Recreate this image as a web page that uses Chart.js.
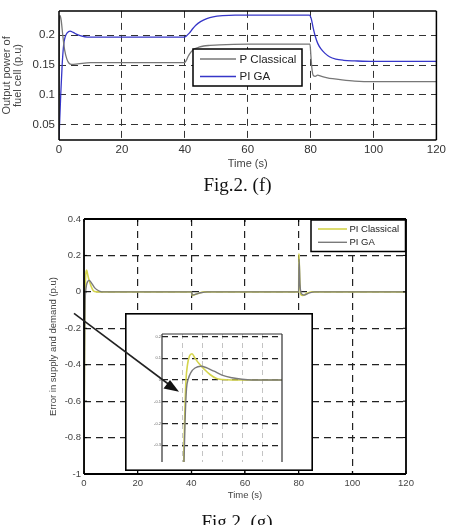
<!DOCTYPE html>
<html>
<head>
<meta charset="utf-8">
<script src="https://cdn.jsdelivr.net/npm/chart.js@4.4.1/dist/chart.umd.min.js"></script>
<style>
  body { margin: 0; background: #fff; width: 449px; height: 525px; overflow: hidden; position: relative; font-family: "Liberation Sans", Arial, sans-serif; }
  canvas { position: absolute; }
  #powerChart { left: 0; top: 0; }
  #errorChart { left: 0; top: 200px; }
  #insetChart { left: 125px; top: 313px; }
  #arrow { position: absolute; left: 0; top: 0; pointer-events: none; }
  .cap { position: absolute; font-family: "Liberation Serif", "Times New Roman", serif; font-size: 19px; line-height: 19px; transform: translateX(-50%); white-space: nowrap; color: #111; }
</style>
</head>
<body>
<canvas id="powerChart" width="449" height="176"></canvas>
<div class="cap" style="left:237.5px; top:174.5px;">Fig.2. (f)</div>
<canvas id="errorChart" width="449" height="310"></canvas>
<canvas id="insetChart" width="188" height="158"></canvas>
<svg id="arrow" width="449" height="525">
  <line x1="74" y1="313.3" x2="169" y2="384.5" stroke="#222" stroke-width="1.6"/>
  <polygon points="179,391.7 163.5,388.5 170,380" fill="#111"/>
</svg>
<div class="cap" style="left:237px; top:511.5px;">Fig.2. (g)</div>

<script>
// Fig.2 (f) : puissance de sortie de la pile (p.u)
const powerXTicks = [0, 20, 40, 60, 80, 100, 120];
const powerYTicks = [0.05, 0.1, 0.15, 0.2];

const tPClassical = [0, 0.15, 0.35, 0.7, 1.2, 1.8, 2.5, 3.2, 4, 6, 10, 20, 39.9, 40.5, 41, 42, 43, 44.5, 46, 48, 51, 60, 79.8, 80.1, 80.4, 80.8, 81.5, 82.2, 83.5, 85, 87, 90, 94, 100, 120];
const pClassical  = [0.025, 0.232, 0.233, 0.225, 0.2, 0.175, 0.16, 0.153, 0.151, 0.152, 0.154, 0.154, 0.154, 0.158, 0.164, 0.172, 0.177, 0.18, 0.182, 0.183, 0.184, 0.185, 0.185, 0.165, 0.145, 0.133, 0.131, 0.133, 0.131, 0.129, 0.127, 0.125, 0.123, 0.122, 0.122];

const tPiGa = [0, 0.25, 0.55, 1.0, 1.5, 2.0, 2.6, 3.5, 4.5, 5.5, 7, 9, 12, 20, 39.9, 40.5, 41.5, 42.5, 43.5, 45, 47, 49, 52, 56, 79.6, 80.2, 80.8, 81.5, 82.3, 83.3, 84.5, 86, 88, 90.5, 94, 100, 120];
const piGa  = [0.025, 0.06, 0.1, 0.15, 0.185, 0.198, 0.204, 0.207, 0.205, 0.202, 0.199, 0.197, 0.197, 0.197, 0.197, 0.199, 0.204, 0.211, 0.217, 0.223, 0.228, 0.231, 0.233, 0.234, 0.234, 0.228, 0.213, 0.198, 0.186, 0.177, 0.17, 0.164, 0.16, 0.158, 0.157, 0.156, 0.156];

// Fig.2 (g) : erreur offre / demande (p.u)
const errXTicks = [0, 20, 40, 60, 80, 100, 120];
const errYTicks = [-1, -0.8, -0.6, -0.4, -0.2, 0, 0.2, 0.4];
const insetXTicks = [-2, 0, 2, 4, 6, 8, 10];
const insetYTicks = [-0.3, -0.2, -0.1, 0, 0.1, 0.2];

const tErrClassical = [0, 0.1, 0.2, 0.3, 0.4, 0.55, 0.75, 1.0, 1.3, 1.7, 2.2, 2.8, 3.4, 4, 5, 40, 40.3, 41, 43, 45, 80, 80.1, 80.4, 80.8, 81.5, 83, 85, 120];
const errClassical  = [-1, -0.6, -0.3, -0.12, 0, 0.07, 0.11, 0.12, 0.1, 0.075, 0.05, 0.025, 0.008, 0.002, 0, 0, -0.02, -0.017, -0.006, 0, 0, 0.21, 0.06, -0.015, -0.02, -0.008, 0, 0];

const tErrPiGa = [0, 0.1, 0.2, 0.3, 0.45, 0.6, 0.9, 1.3, 1.9, 2.5, 3.2, 4, 5, 6, 7, 40, 40.4, 41.5, 43.5, 46, 80, 80.15, 80.5, 81, 82, 84, 86, 120];
const errPiGa  = [-1, -0.65, -0.38, -0.2, -0.04, 0, 0.035, 0.055, 0.063, 0.055, 0.04, 0.022, 0.01, 0.003, 0, 0, -0.018, -0.014, -0.005, 0, 0, 0.18, 0.04, -0.01, -0.018, -0.006, 0, 0];

const toPoints = (xs, ys) => xs.map((x, i) => ({ x: x, y: ys[i] }));
const fixTicks = list => scale => { scale.ticks = list.map(v => ({ value: v })); };
const label = v => String(+(+v).toFixed(3));
const noEdge = (col) => c => (c.tick.value <= c.scale.min || c.tick.value >= c.scale.max) ? 'rgba(0,0,0,0)' : col;

// cadre noir autour de la zone de tracé
const framePlugin = {
    id: 'frame',
    afterDatasetsDraw(chart, args, opts) {
        if (!opts || !opts.show) return;
        const { ctx, chartArea: a } = chart;
        ctx.save();
        ctx.strokeStyle = opts.color || '#000';
        ctx.lineWidth = opts.width || 1.5;
        const sides = opts.sides || 'tlbr';
        ctx.beginPath();
        if (sides.includes('t')) { ctx.moveTo(a.left, a.top); ctx.lineTo(a.right, a.top); }
        if (sides.includes('b')) { ctx.moveTo(a.left, a.bottom); ctx.lineTo(a.right, a.bottom); }
        if (sides.includes('l')) { ctx.moveTo(a.left, a.top); ctx.lineTo(a.left, a.bottom); }
        if (sides.includes('r')) { ctx.moveTo(a.right, a.top); ctx.lineTo(a.right, a.bottom); }
        ctx.stroke();
        if (opts.tick) {
            const xs = chart.scales.x, ys = chart.scales.y;
            ctx.lineWidth = 1;
            ctx.beginPath();
            xs.ticks.forEach(t => {
                const px = xs.getPixelForValue(t.value);
                ctx.moveTo(px, a.bottom); ctx.lineTo(px, a.bottom - opts.tick);
                ctx.moveTo(px, a.top); ctx.lineTo(px, a.top + opts.tick);
            });
            ys.ticks.forEach(t => {
                const py = ys.getPixelForValue(t.value);
                ctx.moveTo(a.left, py); ctx.lineTo(a.left + opts.tick, py);
                ctx.moveTo(a.right, py); ctx.lineTo(a.right - opts.tick, py);
            });
            ctx.stroke();
        }
        if (opts.outer) {
            ctx.lineWidth = opts.outer;
            ctx.strokeStyle = '#000';
            ctx.strokeRect(opts.outer / 2, opts.outer / 2, chart.width - opts.outer, chart.height - opts.outer);
        }
        ctx.restore();
    }
};

// légende dans un cadre, façon MATLAB
const boxLegend = {
    id: 'boxLegend',
    afterDatasetsDraw(chart, args, opts) {
        if (!opts || !opts.box) return;
        const { ctx } = chart;
        const [x0, y0, x1, y1] = opts.box;
        ctx.save();
        ctx.fillStyle = '#fff';
        ctx.fillRect(x0, y0, x1 - x0, y1 - y0);
        ctx.strokeStyle = '#000';
        ctx.lineWidth = 1.5;
        ctx.strokeRect(x0, y0, x1 - x0, y1 - y0);
        ctx.font = opts.font;
        ctx.textBaseline = 'middle';
        opts.order.forEach((di, i) => {
            const ds = chart.data.datasets[di];
            const y = opts.rows[i];
            ctx.strokeStyle = ds.borderColor;
            ctx.lineWidth = ds.borderWidth;
            ctx.beginPath();
            ctx.moveTo(opts.line[0], y); ctx.lineTo(opts.line[1], y);
            ctx.stroke();
            ctx.fillStyle = '#222';
            ctx.fillText(ds.label, opts.textX, y + 0.5);
        });
        ctx.restore();
    }
};

const whiteBg = {
    id: 'whiteBg',
    beforeDraw(chart) {
        const { ctx } = chart;
        ctx.save();
        ctx.fillStyle = '#fff';
        ctx.fillRect(0, 0, chart.width, chart.height);
        ctx.restore();
    }
};

Chart.register(framePlugin, boxLegend, whiteBg);
Chart.defaults.font.family = '"Liberation Sans", Arial, sans-serif';
Chart.defaults.color = '#333';

const curve = { pointRadius: 0, cubicInterpolationMode: 'monotone' };

// ---- Fig.2 (f)
new Chart(document.getElementById('powerChart'), {
    type: 'line',
    data: {
        datasets: [
            { ...curve, label: 'P Classical', data: toPoints(tPClassical, pClassical), borderColor: '#777777', borderWidth: 1.3 },
            { ...curve, label: 'PI GA', data: toPoints(tPiGa, piGa), borderColor: '#3636c8', borderWidth: 1.3 }
        ]
    },
    options: {
        responsive: false, animation: false, devicePixelRatio: 1,
        layout: { padding: { left: 0, top: 5, right: 11, bottom: 0 } },
        plugins: {
            legend: { display: false }, tooltip: { enabled: false },
            frame: { show: true, width: 1.5 },
            boxLegend: { box: [193, 49, 302, 86], rows: [59, 76.5], line: [200, 236], textX: 239.5, font: '11.5px "Liberation Sans", Arial, sans-serif', order: [0, 1] }
        },
        scales: {
            x: {
                type: 'linear', min: 0, max: 120,
                afterBuildTicks: fixTicks(powerXTicks),
                afterFit: s => { s.height = 36; },
                ticks: { font: { size: 11.5 }, padding: 3, color: '#333', callback: label },
                grid: { color: noEdge('#333'), lineWidth: 1, drawTicks: false },
                border: { display: false, dash: [7, 5] },
                title: { display: true, text: 'Time (s)', font: { size: 11 }, color: '#444', padding: { top: 0, bottom: 5 } }
            },
            y: {
                min: 0.024, max: 0.241,
                afterBuildTicks: fixTicks(powerYTicks),
                afterFit: s => { s.width = 59; },
                ticks: { font: { size: 11.5 }, padding: 4, color: '#333', callback: label },
                grid: { color: '#333', lineWidth: 1, drawTicks: false },
                border: { display: false, dash: [7, 5] },
                title: { display: true, text: ['Output power of', 'fuel cell (p.u)'], font: { size: 11, lineHeight: 0.95 }, color: '#444', padding: { top: 2, bottom: 0 } }
            }
        }
    }
});

// ---- Fig.2 (g)
const errDatasets = () => [
    { ...curve, label: 'PI GA', data: toPoints(tErrPiGa, errPiGa), borderColor: '#7a7a7a', borderWidth: 1.4 },
    { ...curve, label: 'PI Classical', data: toPoints(tErrClassical, errClassical), borderColor: '#d4d44c', borderWidth: 1.6 }
];

new Chart(document.getElementById('errorChart'), {
    type: 'line',
    data: { datasets: errDatasets() },
    options: {
        responsive: false, animation: false, devicePixelRatio: 1,
        layout: { padding: { left: 0, top: 19, right: 43, bottom: 0 } },
        plugins: {
            legend: { display: false }, tooltip: { enabled: false },
            frame: { show: true, width: 1.8, tick: 3 },
            boxLegend: { box: [311, 20, 405.5, 51.5], rows: [29, 42.3], line: [318, 347], textX: 349.5, font: '9.5px "Liberation Sans", Arial, sans-serif', order: [1, 0] }
        },
        scales: {
            x: {
                type: 'linear', min: 0, max: 120,
                afterBuildTicks: fixTicks(errXTicks),
                afterFit: s => { s.height = 36; },
                ticks: { font: { size: 9.5 }, padding: 3.5, color: '#444', callback: label },
                grid: { color: noEdge('#222'), lineWidth: 1.2, drawTicks: false },
                border: { display: false, dash: [7, 5] },
                title: { display: true, text: 'Time (s)', font: { size: 9.5 }, color: '#444', padding: { top: 0, bottom: 9 } }
            },
            y: {
                min: -1, max: 0.4,
                afterBuildTicks: fixTicks(errYTicks),
                afterFit: s => { s.width = 84; },
                ticks: { font: { size: 9.5 }, padding: 3, color: '#444', callback: label },
                grid: { color: noEdge('#222'), lineWidth: 1.2, drawTicks: false },
                border: { display: false, dash: [7, 5] },
                title: { display: true, text: 'Error in supply and demand (p.u)', font: { size: 9.5 }, color: '#444', padding: { top: 48, bottom: 0 } }
            }
        }
    }
});

// ---- zoom (encart)
new Chart(document.getElementById('insetChart'), {
    type: 'line',
    data: { datasets: errDatasets() },
    options: {
        responsive: false, animation: false, devicePixelRatio: 1,
        layout: { padding: { left: 0, top: 21, right: 31, bottom: 9 } },
        plugins: {
            legend: { display: false }, tooltip: { enabled: false },
            frame: { show: true, width: 1.2, color: '#333', sides: 'tlr', outer: 1.6 }
        },
        scales: {
            x: {
                type: 'linear', min: -2, max: 10,
                afterBuildTicks: fixTicks(insetXTicks),
                afterFit: s => { s.height = 0; },
                ticks: { display: false },
                grid: { color: noEdge('#c4c4c4'), lineWidth: 1, drawTicks: false },
                border: { display: false, dash: [5, 4] }
            },
            y: {
                min: -0.377, max: 0.211,
                afterBuildTicks: fixTicks(insetYTicks),
                afterFit: s => { s.width = 37; },
                ticks: { font: { size: 4 }, padding: 1, color: '#666', callback: label },
                grid: { color: '#222', lineWidth: 1.3, drawTicks: false },
                border: { display: false, dash: [6, 4] }
            }
        }
    }
});
</script>
</body>
</html>
